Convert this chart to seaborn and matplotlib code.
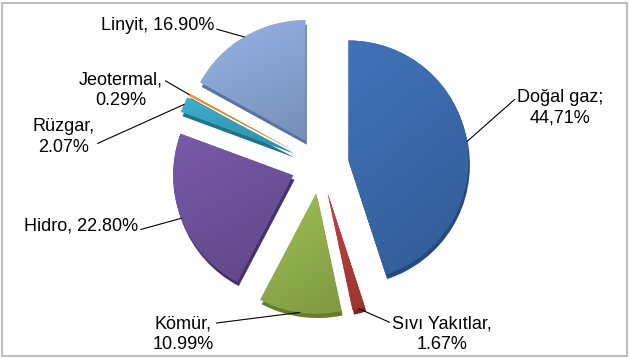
import numpy as np
import matplotlib
matplotlib.use("Agg")
import matplotlib.pyplot as plt
import seaborn as sns
from matplotlib.colors import to_rgb
from matplotlib.patches import Rectangle

# ---- data ----
categories = ["Doğal gaz", "Sıvı Yakıtlar", "Kömür", "Hidro", "Rüzgar", "Jeotermal", "Linyit"]
values = [44.71, 1.67, 10.99, 22.80, 2.07, 0.29, 16.90]
label_texts = ["Doğal gaz;\n44,71%", "Sıvı Yakıtlar,\n1.67%", "Kömür,\n10.99%",
               "Hidro, 22.80%", "Rüzgar,\n2.07%", "Jeotermal,\n0.29%", "Linyit, 16.90%"]

# ---- style ----
colors = ["#3A69AC", "#B23C37", "#93B24C", "#6E519C", "#35A3C0", "#E0872C", "#8AA6D6"]
dark_colors = ["#234A80", "#7E2522", "#647D2E", "#47316B", "#1F7489", "#9E5A18", "#5A73A2"]

# label layout in pixels (x, y from top), alignment, leader start (relpos)
label_layout = [
    ((517, 108), "left", (0.0, 0.78)),
    ((392, 334), "left", (0.0, 0.78)),
    ((183, 334), "center", (1.0, 0.78)),
    ((138, 226), "right", (1.0, 0.25)),
    ((64, 137), "center", (1.0, 0.3)),
    ((121, 90), "center", (1.0, 0.78)),
    ((214, 25), "right", (1.0, 0.3)),
]

sns.set_theme(style="white")
plt.rcParams["font.family"] = ["Liberation Sans", "DejaVu Sans"]

W, H = 630, 358
R_PX = 120.0
CX, CY = 320.0, 165.0  # pie centre in pixels (from top)

fig = plt.figure(figsize=(W / 100, H / 100), dpi=100)
fig.patch.set_facecolor("white")
ax = fig.add_axes([0, 0, 1, 1])
ax.set_axis_off()

explode = [0.24] * len(values)
depth = 4.5 / R_PX

# extruded side (depth)
ax.pie(values, colors=dark_colors, startangle=90, counterclock=False,
       explode=explode, radius=1.0, center=(0.012, -depth),
       wedgeprops=dict(linewidth=0))
# top faces
wedges, _ = ax.pie(values, colors=colors, startangle=90, counterclock=False,
                   explode=explode, radius=1.0, center=(0, 0),
                   wedgeprops=dict(linewidth=0))

# subtle shading gradient on each top face (lighter top-left, darker bottom-right)
for w, c in zip(wedges, colors):
    bb = w.get_path().get_extents()
    base = np.array(to_rgb(c))
    n = 64
    yy, xx = np.mgrid[0:n, 0:n] / (n - 1)
    t = xx * 0.3 + yy * 0.7
    light = np.clip(base * 1.06 + 0.015, 0, 1)
    dark = base * 0.86
    img = light[None, None, :] * (1 - t[..., None]) + dark[None, None, :] * t[..., None]
    im = ax.imshow(img, extent=(bb.x0, bb.x1, bb.y0, bb.y1), origin="upper",
                   interpolation="bilinear", zorder=w.get_zorder() + 0.1, aspect="auto")
    im.set_clip_path(w)

ax.set_xlim(-CX / R_PX, (W - CX) / R_PX)
ax.set_ylim(-(H - CY) / R_PX, CY / R_PX)
ax.set_aspect("auto")

def px2data(px, py):
    return ((px - CX) / R_PX, (CY - py) / R_PX)

for w, txt, (pos, ha, rel) in zip(wedges, label_texts, label_layout):
    mid = np.deg2rad((w.theta1 + w.theta2) / 2)
    cx, cy = w.center
    xy = (cx + np.cos(mid), cy + np.sin(mid))
    ax.annotate(txt, xy=xy, xytext=px2data(*pos), ha=ha, va="center",
                fontsize=13, color="black", multialignment="center",
                linespacing=1.3, zorder=10,
                arrowprops=dict(arrowstyle="-", color="black", lw=0.8,
                                relpos=rel, shrinkA=2, shrinkB=0, patchA=None))

# chart frame
fig.patches.append(Rectangle((2 / W, 2 / H), (W - 5) / W, (H - 5) / H,
                             transform=fig.transFigure, fill=False,
                             edgecolor="#BEBEBE", linewidth=1.5))

fig.savefig("out.png", dpi=100)
